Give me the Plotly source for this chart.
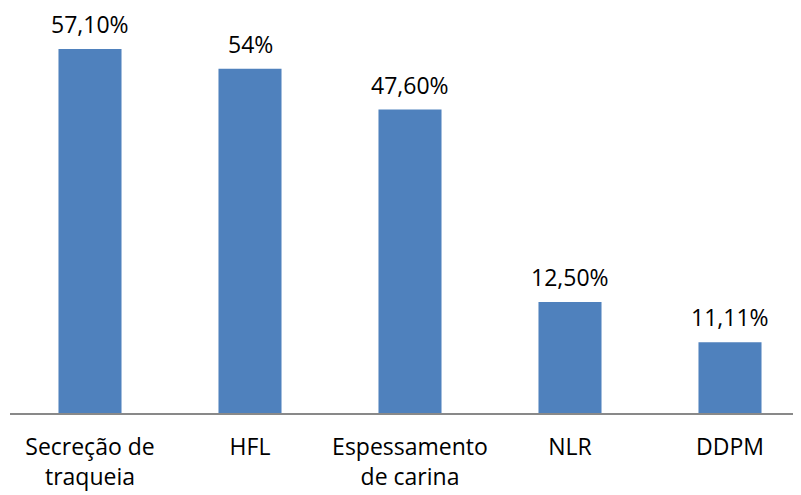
import plotly.graph_objects as go

categories = ["Secreção de<br>traqueia", "HFL", "Espessamento<br>de carina", "NLR", "DDPM"]
bar_heights = [57.1, 54.0, 47.6, 17.4, 11.11]
bar_labels = ["57,10%", "54%", "47,60%", "12,50%", "11,11%"]

FONT = "Open Sans"
xs = list(range(len(categories)))
fig = go.Figure(
    go.Bar(
        x=xs,
        y=bar_heights,
        marker=dict(color="#4F81BD", line=dict(width=0)),
        width=0.394,
        hoverinfo="skip",
    )
)

for xi, h, lab in zip(xs, bar_heights, bar_labels):
    fig.add_annotation(
        x=xi, y=h, text=lab, showarrow=False,
        xanchor="center", yanchor="bottom", yshift=8,
        borderpad=0,
        font=dict(family=FONT, size=23, color="#000000"),
    )

# page body has an 8px margin; compensate so the plot lands where the reference has it
fig.update_layout(
    width=793,
    height=487,
    margin=dict(l=2, r=0, t=2, b=82, autoexpand=False),
    paper_bgcolor="white",
    plot_bgcolor="white",
    showlegend=False,
    font=dict(family=FONT, size=23, color="#000000"),
)
fig.update_xaxes(
    tickmode="array",
    tickvals=xs,
    ticktext=categories,
    range=[-0.5, -0.5 + 791 / 160],
    showline=True,
    linecolor="#898989",
    linewidth=2,
    showgrid=False,
    zeroline=False,
    ticks="",
    automargin=False,
    ticklabelstandoff=12,
    tickfont=dict(family=FONT, size=23, color="#000000"),
)
fig.update_yaxes(
    range=[0, 403 / 6.375],
    visible=False,
    showgrid=False,
    zeroline=False,
    automargin=False,
)

fig.write_html("out.html")
